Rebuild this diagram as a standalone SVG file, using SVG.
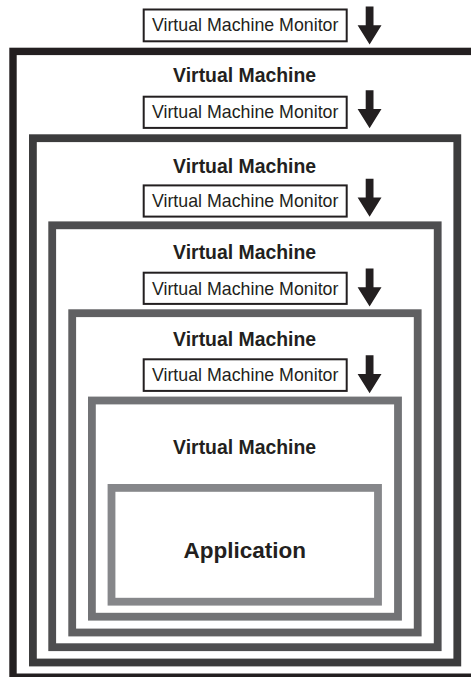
<svg xmlns="http://www.w3.org/2000/svg" width="471" height="677" viewBox="0 0 471 677">
<defs>
<style>
.box{fill:none;stroke-linejoin:miter}
.vmm{fill:#ffffff;stroke:#231f20;stroke-width:2}
.vmmt{font-family:"Liberation Sans",Arial,sans-serif;font-size:17.8px;fill:#231f20;text-anchor:middle}
.vmt{font-family:"Liberation Sans",Arial,sans-serif;font-size:19.4px;font-weight:bold;fill:#231f20;text-anchor:middle}
.appt{font-family:"Liberation Sans",Arial,sans-serif;font-size:22.5px;font-weight:bold;fill:#231f20;text-anchor:middle}
.arrow{fill:#231f20}
</style>
<path id="arr" d="M-3.9,-38 H3.9 V-19.3 H11.9 L0,0 L-12,-19.3 H-3.9 Z"/>
</defs>
<rect x="0" y="0" width="471" height="677" fill="#ffffff"/>

<g id="vm1">
<rect class="box" x="13" y="51.4" width="470" height="625.8" stroke="#231f20" stroke-width="7.4"/>
<text class="vmt" x="244.6" y="81.8">Virtual Machine</text>
</g>
<g id="vm2">
<rect class="box" x="32.9" y="138.2" width="424.4" height="524.3" stroke="#3c3c3d" stroke-width="7.8"/>
<text class="vmt" x="244.6" y="172.5">Virtual Machine</text>
</g>
<g id="vm3">
<rect class="box" x="52.2" y="225.3" width="385.5" height="421.9" stroke="#4e4e50" stroke-width="7.8"/>
<text class="vmt" x="244.6" y="259.2">Virtual Machine</text>
</g>
<g id="vm4">
<rect class="box" x="72.2" y="313.2" width="345.5" height="319.3" stroke="#606062" stroke-width="7.8"/>
<text class="vmt" x="244.6" y="345.8">Virtual Machine</text>
</g>
<g id="vm5">
<rect class="box" x="91.9" y="400.5" width="306.1" height="216.2" stroke="#727376" stroke-width="7.8"/>
<text class="vmt" x="244.6" y="454.2">Virtual Machine</text>
</g>
<g id="app">
<rect class="box" x="111.5" y="487.9" width="266.5" height="113.8" stroke="#86878a" stroke-width="7.8"/>
<text class="appt" x="244.7" y="557.5">Application</text>
</g>

<g id="vmm1">
<rect class="vmm" x="143.7" y="9.5" width="203" height="31.8"/>
<text class="vmmt" x="245.2" y="31.2">Virtual Machine Monitor</text>
</g>
<g id="vmm2">
<rect class="vmm" x="143.7" y="96.7" width="203" height="31.2"/>
<text class="vmmt" x="245.2" y="118.4">Virtual Machine Monitor</text>
</g>
<g id="vmm3">
<rect class="vmm" x="143.7" y="185.4" width="203" height="31.2"/>
<text class="vmmt" x="245.2" y="207.3">Virtual Machine Monitor</text>
</g>
<g id="vmm4">
<rect class="vmm" x="143.7" y="272.7" width="203" height="31.2"/>
<text class="vmmt" x="245.2" y="294.5">Virtual Machine Monitor</text>
</g>
<g id="vmm5">
<rect class="vmm" x="143.7" y="359.3" width="203" height="31.6"/>
<text class="vmmt" x="245.2" y="381.2">Virtual Machine Monitor</text>
</g>

<g id="connectors" class="arrow">
<use href="#arr" x="369.6" y="44.5"/>
<use href="#arr" x="369.6" y="128.3"/>
<use href="#arr" x="369.6" y="216.7"/>
<use href="#arr" x="369.6" y="306.5"/>
<use href="#arr" x="369.6" y="393.3"/>
</g>
</svg>
